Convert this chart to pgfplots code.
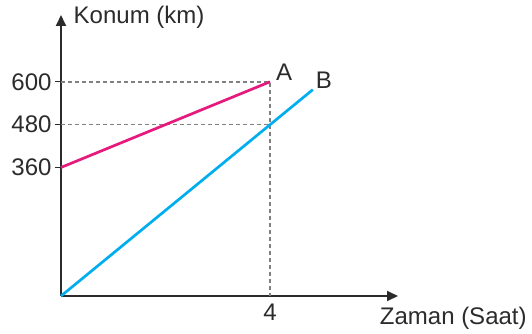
\documentclass[border=0pt]{standalone}
\usepackage{fontspec}
\setmainfont{Liberation Sans}
\usepackage{pgfplots}
\pgfplotsset{compat=1.18}
\usetikzlibrary{arrows.meta}
\definecolor{lineA}{HTML}{E6197D}
\definecolor{lineB}{HTML}{00AEEF}
\definecolor{ink}{HTML}{2B2B2B}
\begin{document}
\begin{tikzpicture}
\useasboundingbox (-61pt,-37pt) rectangle (471pt,296pt);
\begin{axis}[
  at={(0,0)}, anchor=origin,
  scale only axis, width=337pt, height=281pt,
  xmin=0, xmax=6.45, ymin=0, ymax=787,
  axis lines=left,
  axis line style={ink, line width=1.9pt, -{Triangle[length=11pt,width=10pt]}},
  xtick={4}, ytick={360,480,600},
  ytick align=outside, major tick length=6pt,
  tick style={ink, line width=1.4pt},
  xtick style={draw=none},
  /pgf/number format/assume math mode=true,
  ticklabel style={font=\fontsize{24}{28}\selectfont, text=ink},
  yticklabel style={xshift=0pt},
  xticklabel style={yshift=-1pt},
  clip=false,
]
\addplot[gray, dashed, dash pattern=on 4pt off 3pt, line width=1.5pt]
  coordinates {(0,600)(4,600)(4,0)};
\addplot[gray, dashed, dash pattern=on 4pt off 3pt, line width=1.5pt]
  coordinates {(0,480)(4,480)};
\addplot[lineA, line width=2.7pt] coordinates {(0,360)(4,600)};
\addplot[lineB, line width=2.7pt] coordinates {(0,0)(4.82,578)};
\node[font=\fontsize{24}{28}\selectfont, text=ink] at (axis cs:4.27,627) {A};
\node[font=\fontsize{24}{28}\selectfont, text=ink] at (axis cs:5.03,605) {B};
\node[font=\fontsize{24}{28}\selectfont, text=ink, anchor=west, inner sep=0pt] at (axis cs:0.24,781) {Konum (km)};
\node[font=\fontsize{24}{28}\selectfont, text=ink, anchor=west, inner sep=0pt] at (axis cs:6.1,-62) {Zaman (Saat)};
\end{axis}
\end{tikzpicture}
\end{document}
